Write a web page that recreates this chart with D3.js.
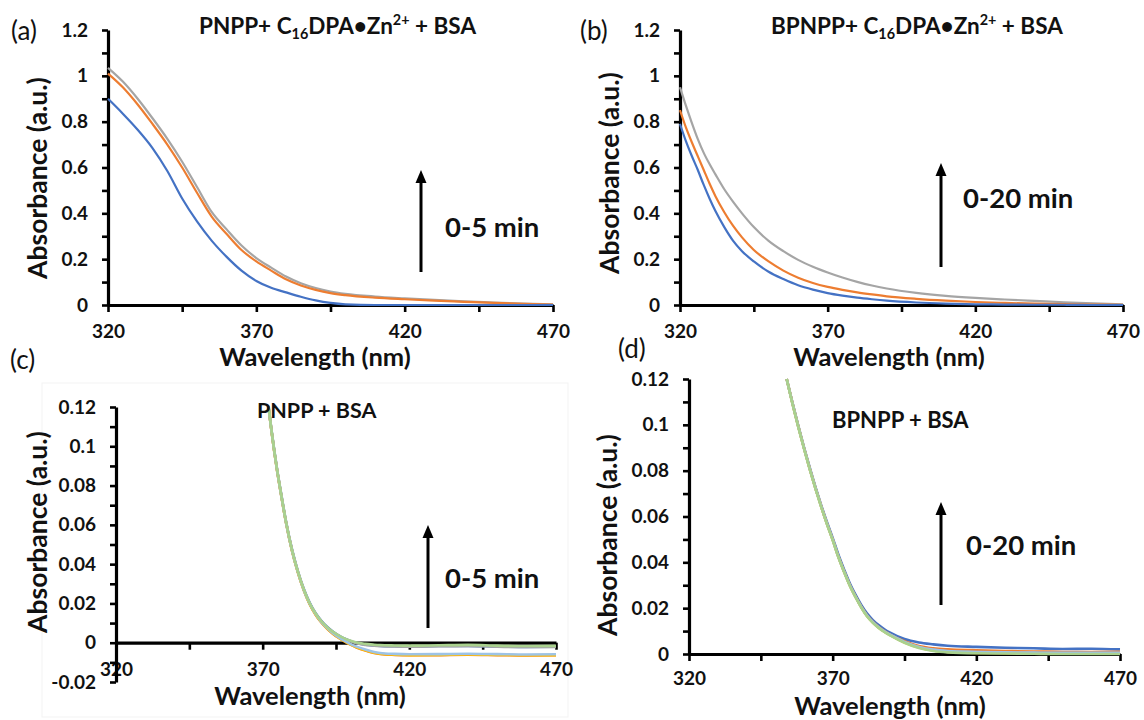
<!DOCTYPE html>
<html>
<head>
<meta charset="utf-8">
<script src="https://cdn.jsdelivr.net/npm/d3@7"></script>
<style>
  html, body { margin: 0; padding: 0; background: #fff; }
  svg { display: block; font-family: Lato, "Open Sans", sans-serif; }
</style>
</head>
<body>
<svg id="fig" width="1144" height="720"></svg>
<script>
// ---------- x axis ----------
const xTickValues = [320, 345, 370, 395, 420, 445, 470];
const xTickLabels = [320, 370, 420, 470];

// ---------- panel (a): PNPP + C16DPA·Zn2+ + BSA ----------
const aWavelength = [320, 325, 330, 335, 340, 345, 350, 355, 360, 365, 370, 375, 380, 385, 390, 395, 400, 410, 420, 430, 440, 450, 460, 470];
const aBlue   = [0.90, 0.835, 0.765, 0.685, 0.585, 0.465, 0.365, 0.28, 0.21, 0.15, 0.105, 0.075, 0.055, 0.036, 0.020, 0.009, 0.003, 0.000, 0.000, 0.000, 0.000, 0.000, 0.000, 0.000];
const aOrange = [1.01, 0.95, 0.875, 0.79, 0.70, 0.60, 0.49, 0.385, 0.31, 0.24, 0.19, 0.15, 0.112, 0.085, 0.066, 0.052, 0.043, 0.032, 0.025, 0.019, 0.014, 0.009, 0.005, 0.002];
const aGray   = [1.035, 0.975, 0.90, 0.815, 0.725, 0.625, 0.515, 0.405, 0.33, 0.26, 0.205, 0.163, 0.124, 0.095, 0.074, 0.059, 0.049, 0.037, 0.029, 0.022, 0.016, 0.011, 0.006, 0.003];
const aYTicks = [0, 0.1, 0.2, 0.3, 0.4, 0.5, 0.6, 0.7, 0.8, 0.9, 1.0, 1.1, 1.2];
const aYLabels = [0, 0.2, 0.4, 0.6, 0.8, 1.0, 1.2];

// ---------- panel (b): BPNPP + C16DPA·Zn2+ + BSA ----------
const bWavelength = [320, 322, 324, 326, 328, 330, 332, 335, 338, 341, 345, 350, 355, 360, 365, 370, 375, 380, 385, 390, 400, 410, 420, 430, 440, 450, 460, 470];
const bBlue   = [0.79, 0.715, 0.65, 0.59, 0.525, 0.465, 0.41, 0.34, 0.28, 0.235, 0.19, 0.145, 0.113, 0.086, 0.067, 0.052, 0.041, 0.032, 0.025, 0.019, 0.011, 0.006, 0.003, 0.002, 0.001, 0.001, 0.000, 0.000];
const bOrange = [0.85, 0.775, 0.71, 0.65, 0.59, 0.53, 0.475, 0.405, 0.345, 0.295, 0.24, 0.19, 0.15, 0.119, 0.096, 0.079, 0.066, 0.055, 0.046, 0.038, 0.027, 0.019, 0.013, 0.009, 0.006, 0.004, 0.002, 0.001];
const bGray   = [0.95, 0.87, 0.795, 0.725, 0.665, 0.615, 0.57, 0.505, 0.45, 0.40, 0.34, 0.28, 0.235, 0.197, 0.167, 0.142, 0.12, 0.101, 0.085, 0.072, 0.053, 0.040, 0.031, 0.024, 0.018, 0.012, 0.007, 0.003];
const bYTicks = aYTicks;
const bYLabels = aYLabels;

// ---------- panel (c): PNPP + BSA ----------
const cWavelength = [372, 373, 374, 375, 376, 378, 380, 382, 384, 386, 388, 390, 392, 394, 396, 398, 400, 402, 405, 408, 410, 415, 420, 430, 440, 450, 460, 470];
const cBlue      = [0.12, 0.1085, 0.0975, 0.0875, 0.0785, 0.0615, 0.0475, 0.0365, 0.0275, 0.0205, 0.0152, 0.0112, 0.0080, 0.0056, 0.0036, 0.0020, 0.0008, -0.0002, -0.0010, -0.0014, -0.0016, -0.0018, -0.0019, -0.0017, -0.0016, -0.0019, -0.0021, -0.0020];
const cOrange    = [0.12, 0.1078, 0.0968, 0.0868, 0.0778, 0.0608, 0.0468, 0.0358, 0.0268, 0.0197, 0.0144, 0.0103, 0.0071, 0.0045, 0.0024, 0.0006, -0.0010, -0.0024, -0.0040, -0.0052, -0.0057, -0.0062, -0.0064, -0.0063, -0.0061, -0.0063, -0.0065, -0.0064];
const cGray      = [0.12, 0.108, 0.097, 0.087, 0.078, 0.061, 0.047, 0.036, 0.027, 0.020, 0.0148, 0.0108, 0.0077, 0.0053, 0.0034, 0.0019, 0.0007, -0.0003, -0.0011, -0.0015, -0.0017, -0.0019, -0.0020, -0.0018, -0.0016, -0.0020, -0.0022, -0.0021];
const cYellow    = [0.12, 0.1079, 0.0969, 0.0869, 0.0779, 0.0609, 0.0469, 0.0359, 0.0269, 0.0198, 0.0145, 0.0104, 0.0072, 0.0046, 0.0025, 0.0007, -0.0009, -0.0023, -0.0039, -0.0051, -0.0056, -0.0061, -0.0063, -0.0062, -0.0060, -0.0062, -0.0064, -0.0063];
const cLightBlue = [0.12, 0.108, 0.097, 0.087, 0.078, 0.061, 0.047, 0.036, 0.027, 0.020, 0.0147, 0.0106, 0.0074, 0.0048, 0.0027, 0.0009, -0.0007, -0.0020, -0.0035, -0.0047, -0.0052, -0.0057, -0.0059, -0.0058, -0.0056, -0.0058, -0.0060, -0.0059];
const cGreen     = [0.12, 0.1082, 0.0972, 0.0872, 0.0782, 0.0612, 0.0472, 0.0362, 0.0272, 0.0202, 0.0150, 0.0110, 0.0079, 0.0055, 0.0036, 0.0021, 0.0010, 0.0001, -0.0006, -0.0010, -0.0012, -0.0014, -0.0015, -0.0013, -0.0011, -0.0015, -0.0017, -0.0016];
const cYTicks = [-0.02, -0.01, 0, 0.01, 0.02, 0.03, 0.04, 0.05, 0.06, 0.07, 0.08, 0.09, 0.1, 0.11, 0.12];
const cYLabels = [-0.02, 0, 0.02, 0.04, 0.06, 0.08, 0.1, 0.12];

// ---------- panel (d): BPNPP + BSA ----------
const dWavelength = [354, 356, 358, 360, 362, 364, 366, 368, 370, 372, 374, 376, 378, 380, 382, 384, 386, 388, 390, 395, 400, 405, 410, 420, 430, 440, 450, 460, 470];
const dBlue      = [0.12, 0.1097, 0.0998, 0.0903, 0.0814, 0.0729, 0.065, 0.0576, 0.0507, 0.0433, 0.0368, 0.0308, 0.0258, 0.0213, 0.0176, 0.0148, 0.0126, 0.0108, 0.0093, 0.0065, 0.0050, 0.0042, 0.0036, 0.0031, 0.0027, 0.0025, 0.0022, 0.0023, 0.0020];
const dOrange    = [0.12, 0.1095, 0.0995, 0.0900, 0.0810, 0.0725, 0.0645, 0.0570, 0.0500, 0.0425, 0.0360, 0.0300, 0.0250, 0.0205, 0.0168, 0.0140, 0.0118, 0.0100, 0.0085, 0.0056, 0.0035, 0.0025, 0.0020, 0.0016, 0.0013, 0.0011, 0.0009, 0.0009, 0.0010];
const dGray      = [0.12, 0.1094, 0.0994, 0.0899, 0.0809, 0.0724, 0.0644, 0.0569, 0.0499, 0.0424, 0.0359, 0.0299, 0.0249, 0.0204, 0.0166, 0.0138, 0.0116, 0.0098, 0.0083, 0.0052, 0.0030, 0.0018, 0.0012, 0.0008, 0.0006, 0.0005, 0.0004, 0.0004, 0.0004];
const dYellow    = [0.12, 0.1093, 0.0993, 0.0898, 0.0808, 0.0723, 0.0643, 0.0568, 0.0498, 0.0423, 0.0358, 0.0298, 0.0248, 0.0203, 0.0165, 0.0137, 0.0115, 0.0097, 0.0082, 0.0050, 0.0028, 0.0015, 0.0009, 0.0005, 0.0004, 0.0003, 0.0002, 0.0002, 0.0002];
const dLightBlue = [0.12, 0.1094, 0.0994, 0.0899, 0.0809, 0.0724, 0.0644, 0.0569, 0.0499, 0.0424, 0.0359, 0.0299, 0.0249, 0.0204, 0.0167, 0.0139, 0.0117, 0.0099, 0.0084, 0.0053, 0.0031, 0.0019, 0.0013, 0.0009, 0.0007, 0.0006, 0.0005, 0.0005, 0.0005];
const dGreen     = [0.12, 0.1092, 0.0992, 0.0897, 0.0807, 0.0722, 0.0642, 0.0567, 0.0497, 0.0422, 0.0357, 0.0297, 0.0247, 0.0202, 0.0164, 0.0136, 0.0114, 0.0096, 0.0081, 0.0049, 0.0026, 0.0013, 0.0007, 0.0003, 0.0002, 0.0001, 0.0000, 0.0000, 0.0000];
const dYTicks = [0, 0.01, 0.02, 0.03, 0.04, 0.05, 0.06, 0.07, 0.08, 0.09, 0.1, 0.11, 0.12];
const dYLabels = [0, 0.02, 0.04, 0.06, 0.08, 0.1, 0.12];

// ---------- series colours ----------
const COL = {
  blue: "#4472C4", orange: "#ED7D31", gray: "#A5A5A5",
  yellow: "#FFC000", lightBlue: "#9DC3E6", green: "#A9D18E"
};

const svg = d3.select("#fig");
const fmt = v => String(+(+v).toFixed(2));
const has = (arr, v) => arr.some(a => Math.abs(a - v) < 1e-9);

function drawPanel(p) {
  const x = d3.scaleLinear().domain([320, 470]).range([p.left, p.right]);
  const y = d3.scaleLinear().domain(p.yDomain).range([p.bottom, p.top]);
  const g = svg.append("g");

  // x axis, drawn at absorbance 0
  const xAxis = d3.axisBottom(x)
    .tickValues(xTickValues)
    .tickFormat(d => has(xTickLabels, d) ? d : "")
    .tickSize(7).tickSizeOuter(0).tickPadding(p.xPad);
  const gx = g.append("g").attr("transform", `translate(0,${y(0)})`).call(xAxis);

  // y axis
  const yAxis = d3.axisLeft(y)
    .tickValues(p.yTicks)
    .tickFormat(d => has(p.yLabels, d) ? fmt(d) : "")
    .tickSize(6).tickSizeOuter(0).tickPadding(14);
  const gy = g.append("g").attr("transform", `translate(${p.left},0)`).call(yAxis);

  [gx, gy].forEach(a => {
    a.select(".domain").attr("stroke", "#000").attr("stroke-width", 3.2);
    a.selectAll(".tick line").attr("stroke", "#000").attr("stroke-width", 2.6);
    a.selectAll(".tick text")
      .attr("fill", "#111").attr("font-family", "Lato, sans-serif")
      .attr("font-weight", 700).attr("font-size", 19);
  });

  // spectra
  const line = d3.line()
    .x(d => x(d[0])).y(d => y(d[1]))
    .curve(d3.curveMonotoneX);
  p.series.forEach(s => {
    g.append("path")
      .datum(p.wavelength.map((w, i) => [w, s.values[i]]))
      .attr("d", line)
      .attr("fill", "none")
      .attr("stroke", s.color)
      .attr("stroke-width", p.lineWidth)
      .attr("stroke-linejoin", "round");
  });

  // axis titles
  g.append("text")
    .attr("x", p.xTitle[0]).attr("y", p.xTitle[1]).attr("dy", "0.35em")
    .attr("text-anchor", "middle").attr("font-weight", 700).attr("font-size", 25.5)
    .attr("fill", "#111").text("Wavelength (nm)");
  g.append("text")
    .attr("transform", `translate(${p.yTitle[0]},${p.yTitle[1]}) rotate(-90)`)
    .attr("dy", "0.35em")
    .attr("text-anchor", "middle").attr("font-weight", 700).attr("font-size", 26.5)
    .attr("fill", "#111").text("Absorbance (a.u.)");

  // panel letter
  g.append("text")
    .attr("x", p.letter[0]).attr("y", p.letter[1]).attr("dy", "0.35em")
    .attr("font-size", 26).attr("fill", "#111").text(p.letter[2]);

  // panel heading
  const t = g.append("text")
    .attr("x", p.heading.x).attr("y", p.heading.y).attr("dy", "0.35em")
    .attr("font-weight", 700).attr("font-size", p.heading.size).attr("fill", "#111");
  p.heading.parts.forEach(part => {
    const ts = t.append("tspan").text(part.t);
    if (part.sub) ts.attr("font-size", p.heading.size * 0.64).attr("dy", 5);
    if (part.sup) ts.attr("font-size", p.heading.size * 0.64).attr("dy", -9);
    if (part.back) ts.attr("dy", part.back);
  });

  // time arrow and label
  const ar = p.arrow;
  g.append("line")
    .attr("x1", ar.x).attr("x2", ar.x).attr("y1", ar.y1).attr("y2", ar.y2 + 10)
    .attr("stroke", "#000").attr("stroke-width", 3);
  g.append("path")
    .attr("d", `M${ar.x},${ar.y2} L${ar.x - 5.5},${ar.y2 + 13} L${ar.x + 5.5},${ar.y2 + 13} Z`)
    .attr("fill", "#000");
  g.append("text")
    .attr("x", ar.tx).attr("y", ar.ty).attr("dy", "0.35em")
    .attr("font-weight", 700).attr("font-size", 27.5).attr("fill", "#111").text(ar.label);
}

const zincHeading = lead => [
  { t: lead + " C" }, { t: "16", sub: true }, { t: "DPA\u2022Zn", back: -5 },
  { t: "2+", sup: true }, { t: " + BSA", back: 9 }
];

// faint frame of the lower-left chart area
svg.append("rect").attr("x", 42).attr("y", 383).attr("width", 526).attr("height", 334)
  .attr("fill", "none").attr("stroke", "#f3f3f3").attr("stroke-width", 1);

drawPanel({
  left: 108, right: 553, top: 30, bottom: 305, yDomain: [0, 1.2],
  yTicks: aYTicks, yLabels: aYLabels, xPad: 13, lineWidth: 2.2,
  wavelength: aWavelength,
  series: [
    { values: aGray, color: COL.gray },
    { values: aOrange, color: COL.orange },
    { values: aBlue, color: COL.blue }
  ],
  xTitle: [315, 357], yTitle: [38, 178], letter: [11, 31, "(a)"],
  heading: { x: 199, y: 26, size: 22.5, parts: zincHeading("PNPP+") },
  arrow: { x: 421, y1: 272, y2: 170, tx: 445, ty: 227, label: "0-5 min" }
});

drawPanel({
  left: 680, right: 1123, top: 30, bottom: 305, yDomain: [0, 1.2],
  yTicks: bYTicks, yLabels: bYLabels, xPad: 13, lineWidth: 2.2,
  wavelength: bWavelength,
  series: [
    { values: bGray, color: COL.gray },
    { values: bOrange, color: COL.orange },
    { values: bBlue, color: COL.blue }
  ],
  xTitle: [889, 357], yTitle: [610, 173], letter: [580, 31, "(b)"],
  heading: { x: 771, y: 26, size: 22.5, parts: zincHeading("BPNPP+") },
  arrow: { x: 941, y1: 267, y2: 163, tx: 963, ty: 198, label: "0-20 min" }
});

drawPanel({
  left: 116, right: 556, top: 407, bottom: 682, yDomain: [-0.02, 0.12],
  yTicks: cYTicks, yLabels: cYLabels, xPad: 13, lineWidth: 2.6,
  wavelength: cWavelength,
  series: [
    { values: cBlue, color: COL.blue },
    { values: cOrange, color: COL.orange },
    { values: cGray, color: COL.gray },
    { values: cYellow, color: COL.yellow },
    { values: cLightBlue, color: COL.lightBlue },
    { values: cGreen, color: COL.green }
  ],
  xTitle: [310, 696], yTitle: [38, 532], letter: [10, 360, "(c)"],
  heading: { x: 257, y: 410, size: 21.5, parts: [{ t: "PNPP + BSA" }] },
  arrow: { x: 428, y1: 628, y2: 525, tx: 445, ty: 578, label: "0-5 min" }
});

drawPanel({
  left: 689, right: 1120, top: 379, bottom: 654, yDomain: [0, 0.12],
  yTicks: dYTicks, yLabels: dYLabels, xPad: 11, lineWidth: 2.6,
  wavelength: dWavelength,
  series: [
    { values: dBlue, color: COL.blue },
    { values: dOrange, color: COL.orange },
    { values: dGray, color: COL.gray },
    { values: dYellow, color: COL.yellow },
    { values: dLightBlue, color: COL.lightBlue },
    { values: dGreen, color: COL.green }
  ],
  xTitle: [890, 706], yTitle: [608, 535], letter: [618, 349, "(d)"],
  heading: { x: 832, y: 420, size: 22, parts: [{ t: "BPNPP + BSA" }] },
  arrow: { x: 941, y1: 605, y2: 502, tx: 966, ty: 545, label: "0-20 min" }
});
</script>
</body>
</html>
